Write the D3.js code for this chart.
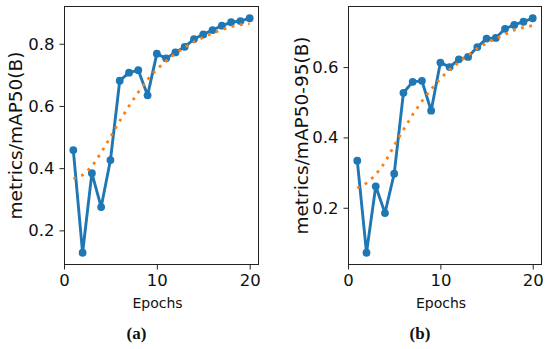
<!DOCTYPE html>
<html>
<head>
<meta charset="utf-8">
<script src="https://cdn.jsdelivr.net/npm/d3@7"></script>
<style>
  body { margin: 0; background: #fff; }
  svg { display: block; }
</style>
</head>
<body>
<div id="chart"></div>
<script>
// values
const epochs = [1, 2, 3, 4, 5, 6, 7, 8, 9, 10, 11, 12, 13, 14, 15, 16, 17, 18, 19, 20];
const map50 = [0.458, 0.128, 0.384, 0.275, 0.426, 0.681, 0.707, 0.715, 0.634, 0.768,
               0.753, 0.772, 0.790, 0.815, 0.830, 0.844, 0.858, 0.869, 0.873, 0.882];
const map50Smooth = [0.366, 0.378, 0.405, 0.450, 0.500, 0.552, 0.600, 0.644, 0.685, 0.718,
                     0.745, 0.768, 0.788, 0.806, 0.821, 0.834, 0.845, 0.855, 0.861, 0.864];
const map5095 = [0.334, 0.072, 0.261, 0.185, 0.297, 0.527, 0.558, 0.561, 0.476, 0.613,
                 0.600, 0.622, 0.629, 0.657, 0.681, 0.683, 0.709, 0.720, 0.729, 0.739];
const map5095Smooth = [0.256, 0.270, 0.294, 0.329, 0.377, 0.422, 0.465, 0.503, 0.537, 0.567,
                       0.593, 0.614, 0.634, 0.653, 0.668, 0.681, 0.693, 0.705, 0.713, 0.718];
const xTicks = [0, 10, 20];
const yTicksA = [0.2, 0.4, 0.6, 0.8];
const yTicksB = [0.2, 0.4, 0.6];

const width = 550, height = 349;
const blue = "#1f77b4", orange = "#ff7f0e";

const svg = d3.select("#chart").append("svg")
    .attr("width", width)
    .attr("height", height);

function drawPanel(p) {
    const x = d3.scaleLinear().domain([0.05, 20.95]).range([p.left, p.right]);
    // matplotlib style 5% margin around the data
    const ext = d3.extent(p.values);
    const pad = (ext[1] - ext[0]) * 0.05;
    const y = d3.scaleLinear().domain([ext[0] - pad, ext[1] + pad]).range([p.bottom, p.top]);

    const g = svg.append("g");

    const yAxis = g.append("g")
        .attr("transform", `translate(${p.left},0)`)
        .call(d3.axisLeft(y).tickValues(p.yTicks).tickFormat(d3.format(".1f")).tickSize(5).tickPadding(5));
    const xAxis = g.append("g")
        .attr("transform", `translate(0,${p.bottom})`)
        .call(d3.axisBottom(x).tickValues(xTicks).tickSize(5).tickPadding(5));
    [xAxis, yAxis].forEach(a => {
        a.select(".domain").remove();
        a.selectAll("line").attr("stroke", "#222").attr("stroke-width", 1);
        a.selectAll("text")
            .attr("fill", "#111")
            .style("font-family", "DejaVu Sans")
            .style("font-size", "16.5px");
    });

    const line = d3.line().x((d, i) => x(epochs[i])).y(d => y(d));

    g.append("path")
        .datum(p.values)
        .attr("d", line)
        .attr("fill", "none")
        .attr("stroke", blue)
        .attr("stroke-width", 2.9)
        .attr("stroke-linejoin", "round");

    g.selectAll("circle.pt")
        .data(p.values)
        .join("circle")
        .attr("class", "pt")
        .attr("cx", (d, i) => x(epochs[i]))
        .attr("cy", d => y(d))
        .attr("r", 3.9)
        .attr("fill", blue);

    g.append("path")
        .datum(p.smooth)
        .attr("d", line)
        .attr("fill", "none")
        .attr("stroke", orange)
        .attr("stroke-width", 2.8)
        .attr("stroke-dasharray", "2.8,5.6");

    g.append("rect")
        .attr("x", p.left)
        .attr("y", p.top)
        .attr("width", p.right - p.left)
        .attr("height", p.bottom - p.top)
        .attr("fill", "none")
        .attr("stroke", "#222")
        .attr("stroke-width", 1);

    g.append("text")
        .attr("transform", `translate(${p.labelX},${(p.top + p.bottom) / 2}) rotate(-90)`)
        .attr("text-anchor", "middle")
        .style("font-family", "DejaVu Sans")
        .style("font-size", "18.5px")
        .attr("fill", "#111")
        .text(p.yLabel);

    const mid = (p.left + p.right) / 2;
    g.append("text")
        .attr("x", mid - 4)
        .attr("y", 308)
        .attr("text-anchor", "middle")
        .style("font-family", "DejaVu Sans")
        .style("font-size", "14px")
        .attr("fill", "#111")
        .text("Epochs");

    g.append("text")
        .attr("x", mid - 25)
        .attr("y", 339)
        .attr("text-anchor", "middle")
        .style("font-family", "Liberation Serif")
        .style("font-weight", "bold")
        .style("font-size", "17px")
        .attr("fill", "#111")
        .text(p.tag);
}

drawPanel({ left: 64.5, right: 258.5, top: 6.5, bottom: 264.5, labelX: 21.5,
            values: map50, smooth: map50Smooth, yTicks: yTicksA,
            yLabel: "metrics/mAP50(B)", tag: "(a)" });
drawPanel({ left: 348.5, right: 541.5, top: 6.5, bottom: 264.5, labelX: 307.5,
            values: map5095, smooth: map5095Smooth, yTicks: yTicksB,
            yLabel: "metrics/mAP50-95(B)", tag: "(b)" });
</script>
</body>
</html>
